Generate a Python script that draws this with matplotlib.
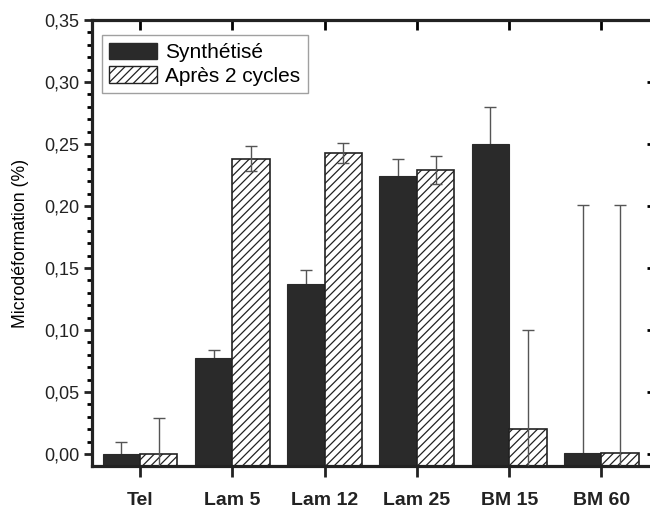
import matplotlib
matplotlib.use("Agg")
import matplotlib.pyplot as plt
import numpy as np
from matplotlib.ticker import FuncFormatter, MultipleLocator, AutoMinorLocator
from matplotlib.patches import Patch

categories = ["Tel", "Lam 5", "Lam 12", "Lam 25", "BM 15", "BM 60"]
synth = [0.000, 0.077, 0.137, 0.224, 0.250, 0.001]
synth_err = [0.010, 0.007, 0.011, 0.014, 0.030, 0.200]
apres = [0.000, 0.238, 0.243, 0.229, 0.020, 0.001]
apres_err = [0.029, 0.010, 0.008, 0.011, 0.080, 0.200]

plt.rcParams['font.family'] = ['Liberation Sans', 'DejaVu Sans']
plt.rcParams['hatch.linewidth'] = 0.9

fig = plt.figure(figsize=(6.5, 5.09), dpi=100)
ax = fig.add_axes([92/650, 1-466/509, (655-92)/650, (466-20)/509])

ymin, ymax = -0.0097, 0.35
x = np.arange(len(categories))
w = 0.405
s = np.array(synth); a = np.array(apres)
ax.bar(x - w/2, s - ymin, w, bottom=ymin, color='#2a2a2a', edgecolor='#2a2a2a', linewidth=0.8, zorder=2)
ax.bar(x + w/2, a - ymin, w, bottom=ymin, color='white', edgecolor='#222222', hatch='////', linewidth=1.2, zorder=2)
ax.errorbar(x - w/2, s, yerr=synth_err, fmt='none', ecolor='#555555', elinewidth=1.0, capsize=4, capthick=1.0, zorder=1)
ax.errorbar(x + w/2, a, yerr=apres_err, fmt='none', ecolor='#555555', elinewidth=1.0, capsize=4, capthick=1.0, zorder=3)

ax.set_xlim(-0.52, 5.58)
ax.set_ylim(ymin, ymax)
ax.set_xticks(x)
ax.set_xticklabels(categories, fontsize=14, fontweight='bold')
ax.yaxis.set_major_locator(MultipleLocator(0.05))
ax.yaxis.set_minor_locator(AutoMinorLocator(5))
ax.yaxis.set_major_formatter(FuncFormatter(lambda v, p: f"{v:.2f}".replace('.', ',')))
ax.tick_params(axis='y', labelsize=13, direction='out', length=6, width=2, pad=3)
ax.tick_params(axis='y', which='minor', direction='out', length=3.5, width=2)
ax.tick_params(axis='x', direction='out', length=8, width=2, pad=11)
for side in ['left', 'bottom', 'top', 'right']:
    ax.spines[side].set_linewidth(2.3)
    ax.spines[side].set_color('#222222')
ax.tick_params(colors='#222222')

# top ticks
ax2 = ax.secondary_xaxis('top')
ax2.set_xticks(x)
ax2.set_xticklabels([])
ax2.tick_params(direction='in', length=7, width=2)
ax2.spines['top'].set_visible(False)

ax3 = ax.secondary_yaxis('right')
ax3.yaxis.set_major_locator(MultipleLocator(0.05))
ax3.set_yticklabels([])
ax3.tick_params(direction='in', length=6, width=2)
ax3.spines['right'].set_visible(False)

ax.set_ylabel("Microdéformation (%)", fontsize=12.7, labelpad=11)

handles = [Patch(facecolor='#2a2a2a', edgecolor='#2a2a2a'),
           Patch(facecolor='white', edgecolor='#222222', hatch='////', linewidth=1.0)]
leg = ax.legend(handles, ["Synthétisé", "Après 2 cycles"], loc='upper left',
                bbox_to_anchor=(0.01, 0.975), fontsize=15, frameon=True, fancybox=False,
                handlelength=2.3, handleheight=0.85, handletextpad=0.4, borderpad=0.35,
                labelspacing=0.2, borderaxespad=0.2)
leg.get_frame().set_edgecolor('#888888')
leg.get_frame().set_linewidth(1.0)

fig.savefig("out.png", dpi=100)
